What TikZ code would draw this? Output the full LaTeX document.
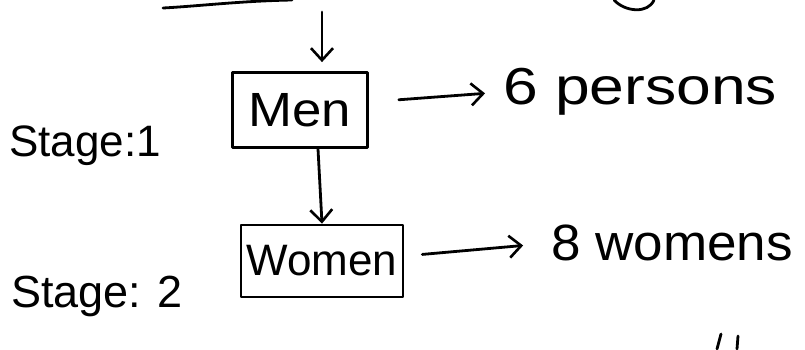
\documentclass[tikz,border=0pt]{standalone}
\usepackage{fontspec}
\setmainfont{Liberation Sans}
\usetikzlibrary{arrows.meta}
\tikzset{
  ink/.style={line width=2.8pt, draw=black, line cap=round, line join=round},
  box/.style={ink, rectangle, inner sep=0pt},
  conn/.style={ink, -{Straight Barb[length=12pt,width=22pt,line width=2.6pt]}},
  lbl/.style={inner sep=0pt},
}
\begin{document}
\begin{tikzpicture}[x=1pt,y=-1pt]
\useasboundingbox (0,0) rectangle (805,349);
% fragments at the edges
\draw[ink] (163,8) .. controls (200,6) and (240,1) .. (292,0);
\draw[ink] (614,0) .. controls (625,12) and (648,14) .. (654,0);
\draw[ink] (721,334) -- (717,349);
\draw[ink] (738,336) -- (737,349);
% boxes
\node[box, minimum width=135pt, minimum height=75pt] (men) at (300,110)
  {\fontsize{48}{48}\selectfont\scalebox{1.1}[1]{Men}};
\node[box, minimum width=162pt, minimum height=72pt] (women) at (322,261)
  {\fontsize{44}{44}\selectfont Women};
% texts
\node[lbl, anchor=west] (persons) at (503,92)
  {\fontsize{52}{52}\selectfont\scalebox{1.2}[1]{6 persons}};
\node[lbl, anchor=west] (womens) at (551,243)
  {\fontsize{51}{51}\selectfont\scalebox{1.04}[1]{8 womens}};
\node[lbl] (s1) at (85,146) {\fontsize{44}{44}\selectfont Stage:1};
\node[lbl] (s2) at (97,296) {\fontsize{45}{45}\selectfont Stage: 2};
% connectors
\coordinate (top) at (322,12);
\draw[conn, shorten >=9pt] (top) -- (men.north -| top);
\draw[conn] ([xshift=18pt]men.south) -- (women.north);
\draw[conn, shorten <=30pt, shorten >=18pt] ([yshift=8pt]men.east) -- (persons.west);
\draw[conn, shorten <=18pt, shorten >=28pt] ([yshift=5pt]women.east) -- (womens.west);
\end{tikzpicture}
\end{document}
